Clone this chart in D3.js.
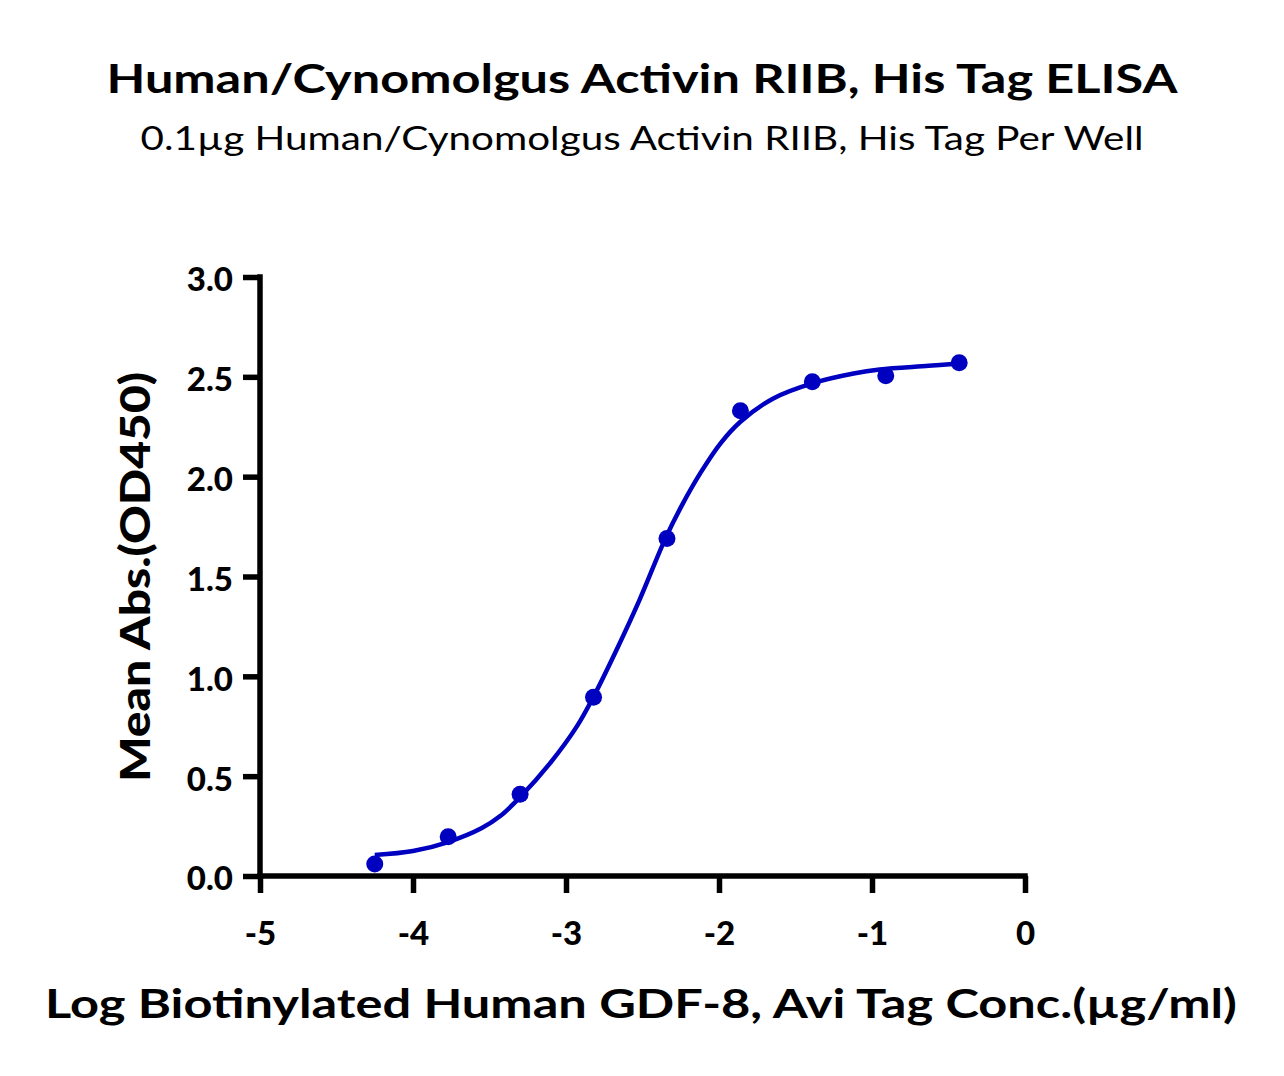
<!DOCTYPE html>
<html>
<head>
<meta charset="utf-8">
<script src="https://cdn.jsdelivr.net/npm/d3@7"></script>
<style>
  body { margin: 0; background: #fff; }
  text { font-family: Lato, "Noto Sans", sans-serif; fill: #000; }
</style>
</head>
<body>
<div id="wrapper"></div>
<script>
// measured points: log concentration vs mean absorbance
const logConc = [-4.25, -3.77, -3.30, -2.82, -2.34, -1.86, -1.39, -0.91, -0.43]
const meanAbs = [0.06, 0.197, 0.41, 0.895, 1.69, 2.33, 2.475, 2.505, 2.57]

// fitted curve
const curveX = [-4.25, -4.0, -3.77, -3.55, -3.43, -3.30, -3.105, -2.93, -2.82, -2.67, -2.52, -2.35, -2.24, -2.12, -1.99, -1.86, -1.645, -1.38, -1.12, -0.95, -0.63, -0.43]
const curveY = [0.105, 0.125, 0.17, 0.24, 0.30, 0.395, 0.564, 0.748, 0.898, 1.132, 1.382, 1.691, 1.86, 2.02, 2.167, 2.275, 2.392, 2.47, 2.517, 2.537, 2.555, 2.567]

const xTicks = [-5, -4, -3, -2, -1, 0]
const yTicks = [0, 0.5, 1.0, 1.5, 2.0, 2.5, 3.0]

const titleText = "Human/Cynomolgus Activin RIIB, His Tag ELISA"
const subtitleText = "0.1µg Human/Cynomolgus Activin RIIB, His Tag Per Well"
const xLabelText = "Log Biotinylated Human GDF-8, Avi Tag Conc.(µg/ml)"
const yLabelText = "Mean Abs.(OD450)"

const width = 1284
const height = 1076
const blue = "#0000c0"

const svg = d3.select("#wrapper")
  .append("svg")
    .attr("width", width)
    .attr("height", height)

const x = d3.scaleLinear().domain([-5, 0]).range([260, 1025])
const y = d3.scaleLinear().domain([0, 3]).range([876, 277])

// titles
svg.append("text")
  .attr("x", 642).attr("y", 93)
  .attr("text-anchor", "middle")
  .attr("font-size", 40).attr("font-weight", "bold")
  .attr("textLength", 1071).attr("lengthAdjust", "spacingAndGlyphs")
  .text(titleText)

svg.append("text")
  .attr("x", 642).attr("y", 150)
  .attr("text-anchor", "middle")
  .attr("font-size", 33)
  .attr("textLength", 1003).attr("lengthAdjust", "spacingAndGlyphs")
  .text(subtitleText)

// axes
const xAxis = svg.append("g")
  .attr("transform", `translate(0,${y(0)})`)
  .call(d3.axisBottom(x).tickValues(xTicks).tickSize(17).tickSizeOuter(0).tickFormat(d3.format("d")))

const yAxis = svg.append("g")
  .attr("transform", `translate(${x(-5)},0)`)
  .call(d3.axisLeft(y).tickValues(yTicks).tickSize(17).tickSizeOuter(0).tickFormat(d3.format(".1f")))

svg.selectAll(".domain, .tick line")
  .attr("stroke", "#000")
  .attr("stroke-width", 5.5)

xAxis.select(".domain").attr("d", `M${x(-5) - 2.75},0H${x(0) + 2.75}`)
yAxis.select(".domain").attr("d", `M0,${y(3) - 2.75}V${y(0) + 2.75}`)

xAxis.selectAll(".tick text")
  .attr("y", 46)
  .attr("font-size", 33).attr("font-weight", 900)
  .attr("font-family", "Lato, sans-serif")
  .text(d => d < 0 ? "-" + Math.abs(d) : d)

yAxis.selectAll(".tick text")
  .attr("x", -27)
  .attr("dy", "0.42em")
  .attr("font-size", 33).attr("font-weight", 900)
  .attr("font-family", "Lato, sans-serif")

// axis titles
svg.append("text")
  .attr("x", 641).attr("y", 1018)
  .attr("text-anchor", "middle")
  .attr("font-size", 40).attr("font-weight", "bold")
  .attr("textLength", 1192).attr("lengthAdjust", "spacingAndGlyphs")
  .text(xLabelText)

svg.append("text")
  .attr("transform", "translate(150,577) rotate(-90)")
  .attr("text-anchor", "middle")
  .attr("font-size", 41).attr("font-weight", 900)
  .attr("textLength", 410).attr("lengthAdjust", "spacingAndGlyphs")
  .text(yLabelText)

// fitted curve
const fit = curveX.map((d, i) => ({ x: d, y: curveY[i] }))
const line = d3.line()
  .x(d => x(d.x))
  .y(d => y(d.y))
  .curve(d3.curveCatmullRom.alpha(0.5))

svg.append("path")
  .attr("d", line(fit))
  .attr("fill", "none")
  .attr("stroke", blue)
  .attr("stroke-width", 4.5)

// points
const points = logConc.map((d, i) => ({ x: d, y: meanAbs[i] }))
svg.append("g")
  .selectAll("circle")
  .data(points)
  .join("circle")
    .attr("cx", d => x(d.x))
    .attr("cy", d => y(d.y))
    .attr("r", 8.5)
    .attr("fill", blue)
</script>
</body>
</html>
